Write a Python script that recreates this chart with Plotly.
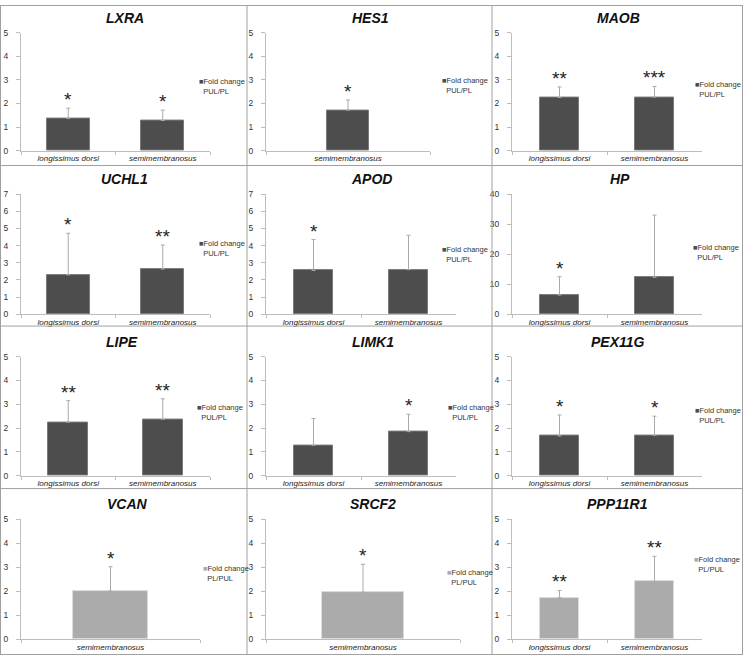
import plotly.graph_objects as go

# ---------------- data ----------------
panel_genes = ["LXRA", "HES1", "MAOB",
               "UCHL1", "APOD", "HP",
               "LIPE", "LIMK1", "PEX11G",
               "VCAN", "SRCF2", "PPP11R1"]

LD = "longissimus dorsi"
SM = "semimembranosus"

panel_categories = [[LD, SM], [SM], [LD, SM],
                    [LD, SM], [LD, SM], [LD, SM],
                    [LD, SM], [LD, SM], [LD, SM],
                    [SM], [SM], [LD, SM]]

fold_change = [[1.37, 1.28], [1.72], [2.25, 2.27],
               [2.30, 2.63], [2.55, 2.60], [6.4, 12.3],
               [2.25, 2.37], [1.28, 1.85], [1.67, 1.70],
               [2.00], [1.95], [1.73, 2.40]]

error_upper = [[0.43, 0.44], [0.43], [0.45, 0.45],
               [2.42, 1.40], [1.80, 2.00], [6.1, 20.7],
               [0.90, 0.86], [1.12, 0.73], [0.88, 0.80],
               [1.02], [1.17], [0.30, 1.05]]

significance = [["*", "*"], ["*"], ["**", "***"],
                ["*", "**"], ["*", ""], ["*", ""],
                ["**", "**"], ["", "*"], ["*", "*"],
                ["*"], ["*"], ["**", "**"]]

legend_labels = ["Fold change<br>PUL/PL"] * 9 + ["Fold change<br>PL/PUL"] * 3

y_max = [5, 5, 5, 7, 7, 40, 5, 5, 5, 5, 5, 5]
y_step = [1, 1, 1, 1, 1, 10, 1, 1, 1, 1, 1, 1]

# ---------------- layout constants (pixels) ----------------
W, H = 743, 660
FONT = "Liberation Sans, Arial, sans-serif"

col_x = [(21, 210), (266, 456), (512, 702)]
single_x = {1: (266, 430), 9: (21, 200), 10: (266, 460)}
row_y = [(28, 148), (192, 314), (357, 478), (522, 644)]
title_pos = [(125, 13), (370, 13), (618, 13),
             (125, 177), (372, 177), (620, 177),
             (122, 342), (373, 342), (618, 342),
             (127, 507), (373, 507), (617, 507)]
legend_pos = [(197, 71), (440, 70), (693, 74),
              (197, 236), (440, 242), (691, 240),
              (195, 402), (446, 402), (693, 405),
              (201, 566), (445, 570), (692, 556)]
bar_width = [0.45, 0.26, 0.42,
             0.45, 0.42, 0.42,
             0.42, 0.42, 0.42,
             0.42, 0.42, 0.42]


def px_x(v):
    return v / W


def px_y(v):
    return 1 - v / H


fig = go.Figure()
annotations = []
layout_axes = {}

for i, gene in enumerate(panel_genes):
    r, c = divmod(i, 3)
    k = i + 1
    xname = "x" if k == 1 else f"x{k}"
    yname = "y" if k == 1 else f"y{k}"
    xa = "xaxis" if k == 1 else f"xaxis{k}"
    ya = "yaxis" if k == 1 else f"yaxis{k}"

    light = i >= 9
    fill = "#ababab" if light else "#4d4d4d"
    edge = "#dcdcdc" if light else "#7a7a7a"

    cats = panel_categories[i]
    fig.add_trace(go.Bar(
        x=cats, y=fold_change[i],
        width=bar_width[i],
        marker=dict(color=fill, line=dict(color=edge, width=1)),
        error_y=dict(type="data", array=error_upper[i],
                     arrayminus=[0] * len(cats), symmetric=False,
                     color="#aaaaaa", thickness=1, width=2),
        xaxis=xname, yaxis=yname, showlegend=False,
        name=legend_labels[i].replace("<br>", " "),
    ))

    x0, x1 = single_x.get(i, col_x[c])
    yt, yb = row_y[r]
    layout_axes[xa] = dict(
        domain=[px_x(x0), px_x(x1)], anchor=yname,
        type="category", range=[-0.5, len(cats) - 0.5],
        showline=True, linecolor="#bdbdbd", linewidth=1,
        ticks="outside", tickson="boundaries", ticklen=3, tickcolor="#bdbdbd",
        showgrid=False, zeroline=False,
        tickfont=dict(family=FONT, size=8, color="#222", style="italic"),
    )
    layout_axes[ya] = dict(
        domain=[px_y(yb), px_y(yt)], anchor=xname,
        range=[0, y_max[i]], dtick=y_step[i], tick0=0,
        showline=True, linecolor="#bdbdbd", linewidth=1,
        ticks="outside", ticklen=4, tickcolor="#bdbdbd",
        ticklabelstandoff=6,
        showgrid=False, zeroline=False,
        tickfont=dict(family=FONT, size=8.5, color="#333"),
    )

    # significance stars
    for cat, v, e, s in zip(cats, fold_change[i], error_upper[i], significance[i]):
        if s:
            annotations.append(dict(
                x=cat, y=v + e, xref=xname, yref=yname,
                text=s, showarrow=False, yanchor="bottom", yshift=-4,
                font=dict(family=FONT, size=19, color="#222"),
            ))

    # panel title
    tx, ty = title_pos[i]
    annotations.append(dict(
        x=px_x(tx), y=px_y(ty), xref="paper", yref="paper",
        text=f"<b><i>{gene}</i></b>", showarrow=False,
        xanchor="center", yanchor="middle",
        font=dict(family=FONT, size=14, color="#111"),
    ))

    # legend
    lx, ly = legend_pos[i]
    annotations.append(dict(
        x=px_x(lx), y=px_y(ly), xref="paper", yref="paper",
        text=(f"<span style='color:{fill}'>■</span>"
              + legend_labels[i].replace("<br>", "<br>\u00a0\u00a0")),
        showarrow=False, xanchor="left", yanchor="top", align="left",
        font=dict(family=FONT, size=7.5, color="#333"),
    ))

# panel borders
shapes = []
xs = [0.5, 247, 492, 742.5]
ys = [0.5, 163, 326, 491, 659.5]
for xv in xs:
    shapes.append(dict(type="line", xref="paper", yref="paper",
                       x0=px_x(xv), x1=px_x(xv), y0=0, y1=1,
                       line=dict(color="#a0a0a0", width=1)))
for yv in ys:
    shapes.append(dict(type="line", xref="paper", yref="paper",
                       x0=0, x1=1, y0=px_y(yv), y1=px_y(yv),
                       line=dict(color="#a0a0a0", width=1)))

fig.update_layout(
    width=W, height=H,
    margin=dict(l=0, r=0, t=0, b=0),
    paper_bgcolor="white", plot_bgcolor="white",
    font=dict(family=FONT),
    annotations=annotations, shapes=shapes,
    showlegend=False, bargap=0,
    **layout_axes,
)

fig.write_html(
    "out.html",
    config={"displayModeBar": False},
    post_script="document.body.style.margin='0';document.body.style.overflow='hidden';",
)
